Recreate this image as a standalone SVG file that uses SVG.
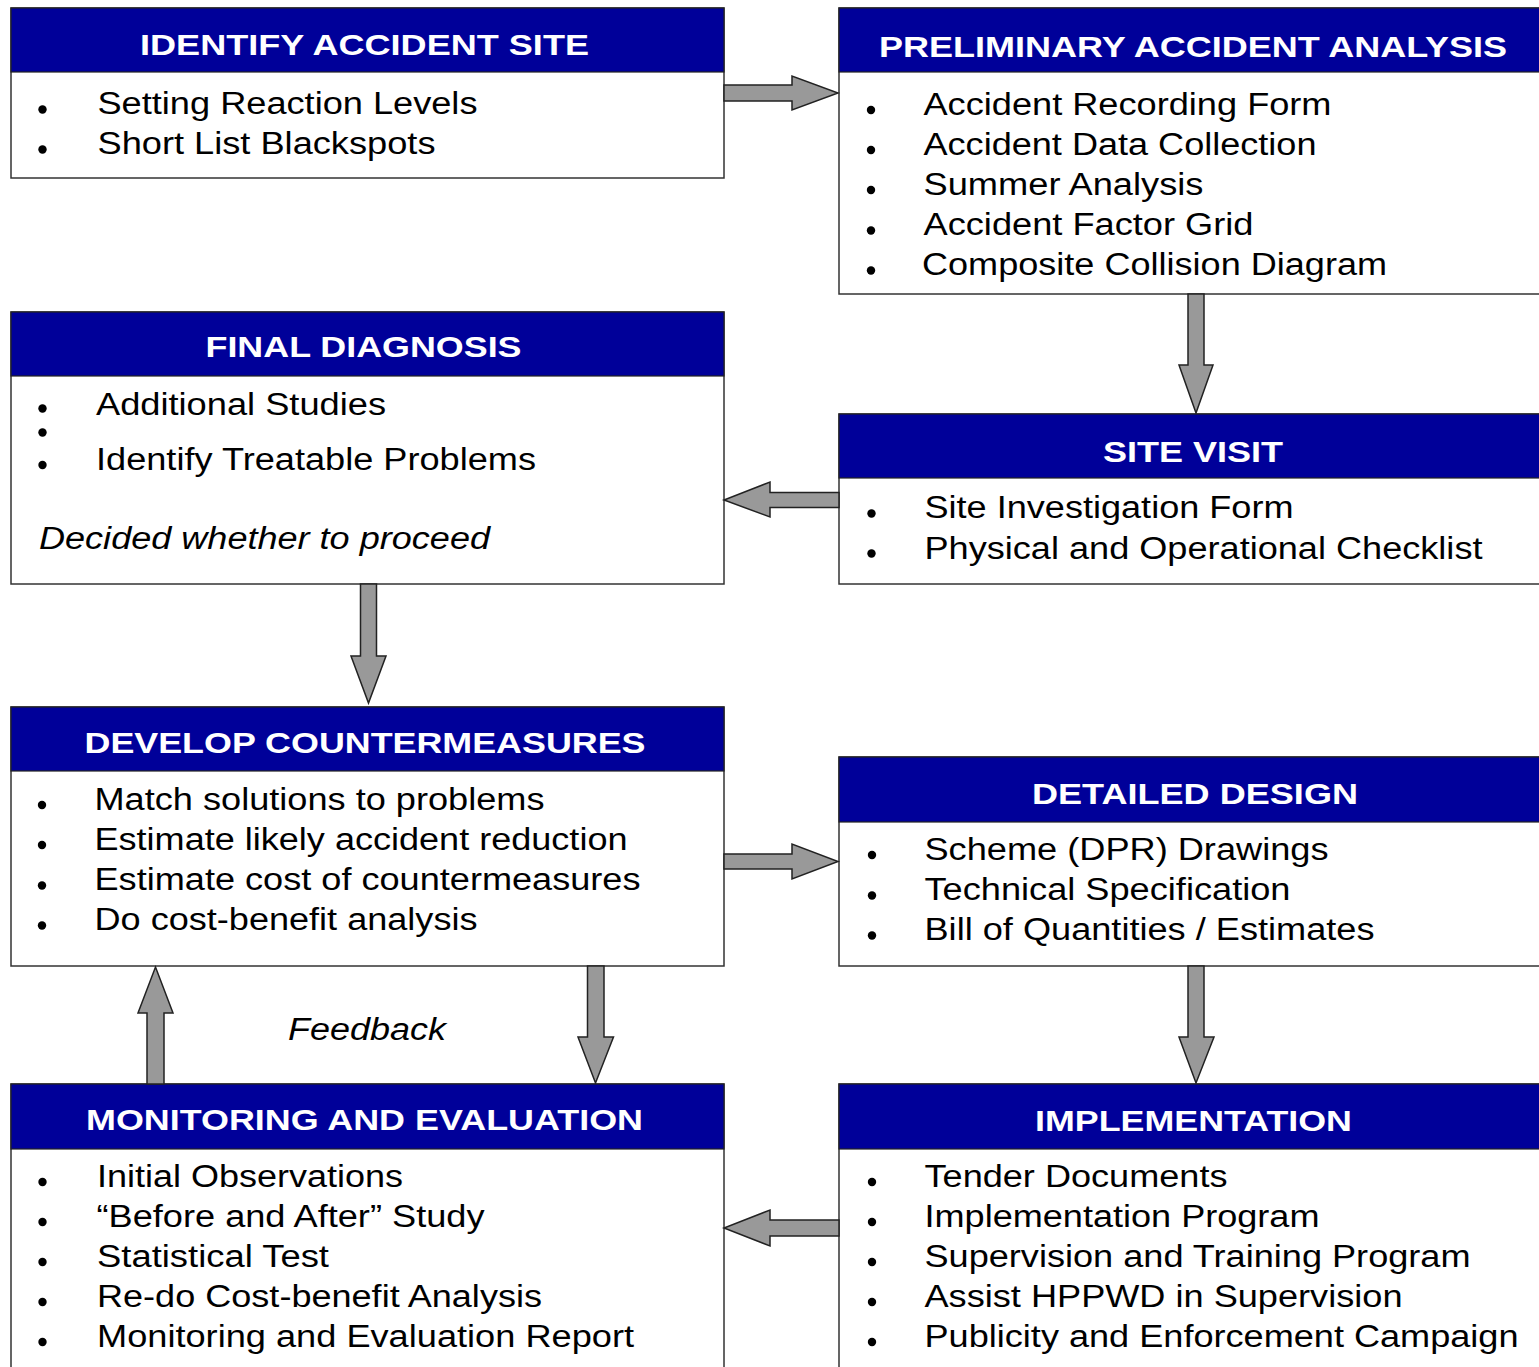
<svg xmlns="http://www.w3.org/2000/svg" width="1539" height="1367" viewBox="0 0 1539 1367">
<style>
.box{fill:#ffffff;stroke:#333333;stroke-width:1.5}
.hdr{fill:#000099;stroke:#222222;stroke-width:1.2}
.ht{font-family:"Liberation Sans",Arial,sans-serif;font-weight:bold;font-size:30px;fill:#ffffff;text-anchor:middle}
.t{font-family:"Liberation Sans",Arial,sans-serif;font-size:31px;fill:#000000}
.it{font-family:"Liberation Sans",Arial,sans-serif;font-size:31px;font-style:italic;fill:#000000}
.b{fill:#000000}
.arr{fill:#999999;stroke:#222222;stroke-width:1.5;stroke-linejoin:miter}
</style>
<rect width="1539" height="1367" fill="#ffffff"/>

<g id="identify-accident-site">
<rect class="box" x="11" y="8" width="713" height="170"/>
<rect class="hdr" x="11" y="8" width="713" height="64"/>
<text class="ht" x="364.5" y="55" textLength="449" lengthAdjust="spacingAndGlyphs">IDENTIFY ACCIDENT SITE</text>
<circle class="b" cx="42.5" cy="109.5" r="4.2"/>
<circle class="b" cx="42.5" cy="149.5" r="4.2"/>
<text class="t" x="97.5" y="114" textLength="380" lengthAdjust="spacingAndGlyphs">Setting Reaction Levels</text>
<text class="t" x="97.5" y="154" textLength="338" lengthAdjust="spacingAndGlyphs">Short List Blackspots</text>
</g>

<g id="preliminary-accident-analysis">
<rect class="box" x="839" y="8" width="712" height="286"/>
<rect class="hdr" x="839" y="8" width="712" height="64"/>
<text class="ht" x="1193" y="56.5" textLength="628" lengthAdjust="spacingAndGlyphs">PRELIMINARY ACCIDENT ANALYSIS</text>
<circle class="b" cx="871" cy="110" r="4.2"/>
<circle class="b" cx="871" cy="150" r="4.2"/>
<circle class="b" cx="871" cy="190" r="4.2"/>
<circle class="b" cx="871" cy="230.5" r="4.2"/>
<circle class="b" cx="871" cy="270.5" r="4.2"/>
<text class="t" x="923.5" y="114.5" textLength="408" lengthAdjust="spacingAndGlyphs">Accident Recording Form</text>
<text class="t" x="923.5" y="154.5" textLength="393" lengthAdjust="spacingAndGlyphs">Accident Data Collection</text>
<text class="t" x="923.5" y="194.5" textLength="280" lengthAdjust="spacingAndGlyphs">Summer Analysis</text>
<text class="t" x="923.5" y="235" textLength="330" lengthAdjust="spacingAndGlyphs">Accident Factor Grid</text>
<text class="t" x="922" y="275" textLength="465" lengthAdjust="spacingAndGlyphs">Composite Collision Diagram</text>
</g>

<g id="final-diagnosis">
<rect class="box" x="11" y="312" width="713" height="272"/>
<rect class="hdr" x="11" y="312" width="713" height="64"/>
<text class="ht" x="363.5" y="357" textLength="316" lengthAdjust="spacingAndGlyphs">FINAL DIAGNOSIS</text>
<circle class="b" cx="42.5" cy="408.5" r="4.2"/>
<circle class="b" cx="42.5" cy="432.5" r="4.2"/>
<circle class="b" cx="42.5" cy="465" r="4.2"/>
<text class="t" x="96" y="415" textLength="290" lengthAdjust="spacingAndGlyphs">Additional Studies</text>
<text class="t" x="96" y="470" textLength="440" lengthAdjust="spacingAndGlyphs">Identify Treatable Problems</text>
<text class="it" x="39" y="548.5" textLength="451" lengthAdjust="spacingAndGlyphs">Decided whether to proceed</text>
</g>

<g id="site-visit">
<rect class="box" x="839" y="414" width="712" height="170"/>
<rect class="hdr" x="839" y="414" width="712" height="64"/>
<text class="ht" x="1193" y="461.5" textLength="180" lengthAdjust="spacingAndGlyphs">SITE VISIT</text>
<circle class="b" cx="871.5" cy="513.5" r="4.2"/>
<circle class="b" cx="871.5" cy="553.5" r="4.2"/>
<text class="t" x="924.5" y="518" textLength="369" lengthAdjust="spacingAndGlyphs">Site Investigation Form</text>
<text class="t" x="924.5" y="558.5" textLength="558" lengthAdjust="spacingAndGlyphs">Physical and Operational Checklist</text>
</g>

<g id="develop-countermeasures">
<rect class="box" x="11" y="707" width="713" height="259"/>
<rect class="hdr" x="11" y="707" width="713" height="64"/>
<text class="ht" x="365" y="753" textLength="561" lengthAdjust="spacingAndGlyphs">DEVELOP COUNTERMEASURES</text>
<circle class="b" cx="42" cy="805" r="4.2"/>
<circle class="b" cx="42" cy="845" r="4.2"/>
<circle class="b" cx="42" cy="885.5" r="4.2"/>
<circle class="b" cx="42" cy="925.5" r="4.2"/>
<text class="t" x="94.5" y="809.5" textLength="450" lengthAdjust="spacingAndGlyphs">Match solutions to problems</text>
<text class="t" x="94.5" y="849.5" textLength="533" lengthAdjust="spacingAndGlyphs">Estimate likely accident reduction</text>
<text class="t" x="94.5" y="890" textLength="546" lengthAdjust="spacingAndGlyphs">Estimate cost of countermeasures</text>
<text class="t" x="94.5" y="930" textLength="383" lengthAdjust="spacingAndGlyphs">Do cost-benefit analysis</text>
</g>

<g id="detailed-design">
<rect class="box" x="839" y="757" width="712" height="209"/>
<rect class="hdr" x="839" y="757" width="712" height="65"/>
<text class="ht" x="1195" y="803.5" textLength="326" lengthAdjust="spacingAndGlyphs">DETAILED DESIGN</text>
<circle class="b" cx="872" cy="855" r="4.2"/>
<circle class="b" cx="872" cy="895.5" r="4.2"/>
<circle class="b" cx="872" cy="935.5" r="4.2"/>
<text class="t" x="924.5" y="859.5" textLength="404" lengthAdjust="spacingAndGlyphs">Scheme (DPR) Drawings</text>
<text class="t" x="924.5" y="900" textLength="366" lengthAdjust="spacingAndGlyphs">Technical Specification</text>
<text class="t" x="924.5" y="940" textLength="450" lengthAdjust="spacingAndGlyphs">Bill of Quantities / Estimates</text>
</g>

<g id="monitoring-and-evaluation">
<rect class="box" x="11" y="1084" width="713" height="300"/>
<rect class="hdr" x="11" y="1084" width="713" height="65"/>
<text class="ht" x="364.5" y="1130" textLength="557" lengthAdjust="spacingAndGlyphs">MONITORING AND EVALUATION</text>
<circle class="b" cx="42.5" cy="1182" r="4.2"/>
<circle class="b" cx="42.5" cy="1222" r="4.2"/>
<circle class="b" cx="42.5" cy="1262" r="4.2"/>
<circle class="b" cx="42.5" cy="1302" r="4.2"/>
<circle class="b" cx="42.5" cy="1342" r="4.2"/>
<text class="t" x="97" y="1187" textLength="306" lengthAdjust="spacingAndGlyphs">Initial Observations</text>
<text class="t" x="96.5" y="1227" textLength="388" lengthAdjust="spacingAndGlyphs">“Before and After” Study</text>
<text class="t" x="97" y="1267" textLength="232" lengthAdjust="spacingAndGlyphs">Statistical Test</text>
<text class="t" x="97" y="1307" textLength="445" lengthAdjust="spacingAndGlyphs">Re-do Cost-benefit Analysis</text>
<text class="t" x="97" y="1347" textLength="537" lengthAdjust="spacingAndGlyphs">Monitoring and Evaluation Report</text>
</g>

<g id="implementation">
<rect class="box" x="839" y="1084" width="712" height="300"/>
<rect class="hdr" x="839" y="1084" width="712" height="65"/>
<text class="ht" x="1193.5" y="1130.5" textLength="317" lengthAdjust="spacingAndGlyphs">IMPLEMENTATION</text>
<circle class="b" cx="872" cy="1182" r="4.2"/>
<circle class="b" cx="872" cy="1222" r="4.2"/>
<circle class="b" cx="872" cy="1262" r="4.2"/>
<circle class="b" cx="872" cy="1302" r="4.2"/>
<circle class="b" cx="872" cy="1342" r="4.2"/>
<text class="t" x="924.5" y="1187" textLength="303" lengthAdjust="spacingAndGlyphs">Tender Documents</text>
<text class="t" x="924.5" y="1227" textLength="395" lengthAdjust="spacingAndGlyphs">Implementation Program</text>
<text class="t" x="924.5" y="1267" textLength="546" lengthAdjust="spacingAndGlyphs">Supervision and Training Program</text>
<text class="t" x="924.5" y="1307" textLength="478" lengthAdjust="spacingAndGlyphs">Assist HPPWD in Supervision</text>
<text class="t" x="924.5" y="1347" textLength="594" lengthAdjust="spacingAndGlyphs">Publicity and Enforcement Campaign</text>
</g>

<g id="connectors">
<polygon class="arr" points="724,85 792,85 792,76 838,93 792,110 792,101 724,101"/>
<polygon class="arr" points="1188,294 1204,294 1204,365 1213,365 1196,413 1179,365 1188,365"/>
<polygon class="arr" points="839,492.5 770,492.5 770,482 724,500 770,517 770,507.5 839,507.5"/>
<polygon class="arr" points="360.5,584 376.5,584 376.5,656 386,656 368.5,703 351,656 360.5,656"/>
<polygon class="arr" points="724,854 792,854 792,844 838,861.5 792,879 792,869 724,869"/>
<polygon class="arr" points="1188,966 1204,966 1204,1037 1214,1037 1196,1083 1179,1037 1188,1037"/>
<polygon class="arr" points="839,1220 770,1220 770,1210 724,1228 770,1246 770,1236 839,1236"/>
<polygon class="arr" points="147,1084 147,1013 138,1013 155.5,967 173,1013 164,1013 164,1084"/>
<polygon class="arr" points="587.5,966 604,966 604,1037 613.5,1037 595.5,1083 578,1037 587.5,1037"/>
<text class="it" x="288" y="1039.5" textLength="158" lengthAdjust="spacingAndGlyphs">Feedback</text>
</g>
</svg>
